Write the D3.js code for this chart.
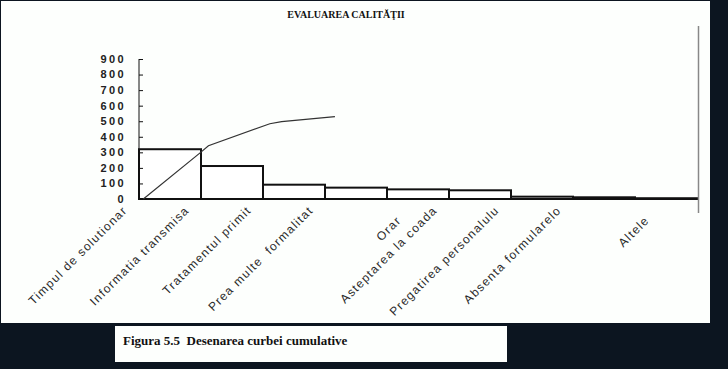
<!DOCTYPE html>
<html>
<head>
<meta charset="utf-8">
<script src="https://cdn.jsdelivr.net/npm/d3@7"></script>
<style>
  body { margin: 0; background: #0c1520; }
  svg { display: block; }
  text { white-space: pre; }
</style>
</head>
<body>
<svg id="chart" width="728" height="369"></svg>
<script>
// categories as they appear (truncated in the original picture)
const categories = ["Timpul de solutionar", "Informatia transmisa", "Tratamentul primit", "Prea multe  formalitat",
  "Orar", "Asteptarea la coada", "Pregatirea personalulu", "Absenta formularelo", "Altele"];
const values = [320, 212, 92, 73, 62, 56, 15, 11, 5];
// cumulative curve as drawn: position in category units, value
const curvePos = [0.07, 0.98, 1.12, 2.11, 2.30, 3.16];
const curveVal = [0, 295, 342, 484, 497, 529];
const yTicks = [0, 100, 200, 300, 400, 500, 600, 700, 800, 900];
const title = "EVALUAREA CALITĂŢII";
const caption = "Figura 5.5  Desenarea curbei cumulative";

const svg = d3.select("#chart");

// white panels
svg.append("rect").attr("x", 1).attr("y", 1).attr("width", 709).attr("height", 322).attr("fill", "#fdfffd");
svg.append("rect").attr("x", 115).attr("y", 326).attr("width", 392).attr("height", 36).attr("fill", "#fdfffd");

svg.append("text")
  .attr("x", 346).attr("y", 18)
  .attr("text-anchor", "middle")
  .style("font-family", "'Liberation Serif', serif")
  .style("font-weight", "bold")
  .style("font-size", "10px")
  .attr("fill", "#111")
  .text(title);

svg.append("text")
  .attr("x", 123).attr("y", 345)
  .style("font-family", "'Liberation Serif', serif")
  .style("font-weight", "bold")
  .style("font-size", "13px")
  .attr("fill", "#111")
  .text(caption);

const x0 = 139, x1 = 697, y0 = 199, y1 = 59;

const x = d3.scaleBand().domain(categories).range([x0, x1]).padding(0);
const xu = d3.scaleLinear().domain([0, categories.length]).range([x0, x1]);
const y = d3.scaleLinear().domain([0, 900]).range([y0, y1]);

// bars
svg.selectAll(".bar")
  .data(values)
  .enter().append("rect")
  .attr("class", "bar")
  .attr("x", (d, i) => x(categories[i]))
  .attr("y", d => y(d))
  .attr("width", x.bandwidth())
  .attr("height", d => y0 - y(d))
  .attr("fill", "#fff")
  .attr("stroke", "#111")
  .attr("stroke-width", 2);

// y axis
const yAxis = svg.append("g")
  .attr("transform", "translate(" + x0 + ",0)")
  .call(d3.axisRight(y).tickValues(yTicks).tickSize(4).tickFormat(""));
yAxis.select(".domain").attr("stroke", "#111").attr("d", "M0," + y1 + "V" + y0);
yAxis.selectAll(".tick line").attr("stroke", "#111");

svg.selectAll(".ylab")
  .data(yTicks)
  .enter().append("text")
  .attr("class", "ylab")
  .attr("x", 126)
  .attr("y", d => y(d))
  .attr("dy", "0.35em")
  .attr("text-anchor", "end")
  .style("font-family", "'Liberation Sans', Arial, sans-serif")
  .style("font-weight", "bold")
  .style("font-size", "11px")
  .style("letter-spacing", "2.4px")
  .attr("fill", "#222")
  .text(d => d);

// x axis baseline
svg.append("line")
  .attr("x1", x0).attr("x2", x1).attr("y1", y0).attr("y2", y0)
  .attr("stroke", "#111").attr("stroke-width", 1.5);

// cumulative curve
const line = d3.line()
  .x(d => xu(d[0]))
  .y(d => y(d[1]));
svg.append("path")
  .datum(curvePos.map((p, i) => [p, curveVal[i]]))
  .attr("d", line)
  .attr("fill", "none")
  .attr("stroke", "#333")
  .attr("stroke-width", 1.2);

// right frame line
svg.append("line")
  .attr("x1", 698.5).attr("x2", 698.5).attr("y1", 26).attr("y2", 213)
  .attr("stroke", "#888").attr("stroke-width", 1.5);

// rotated category labels
svg.selectAll(".xlab")
  .data(categories)
  .enter().append("text")
  .attr("class", "xlab")
  .attr("text-anchor", "end")
  .attr("transform", d => {
    const c = x(d) + x.bandwidth() / 2;
    const shortLabel = d.length < 8;
    const px = c - 42 + (shortLabel ? 26 : 0);
    const py = 211 + (shortLabel ? 10 : 0);
    return "translate(" + px + "," + py + ") rotate(-45)";
  })
  .style("font-family", "'Liberation Sans', Arial, sans-serif")
  .style("font-size", "12px")
  .style("letter-spacing", "1.3px")
  .attr("fill", "#2a2a2a")
  .text(d => d);
</script>
</body>
</html>
